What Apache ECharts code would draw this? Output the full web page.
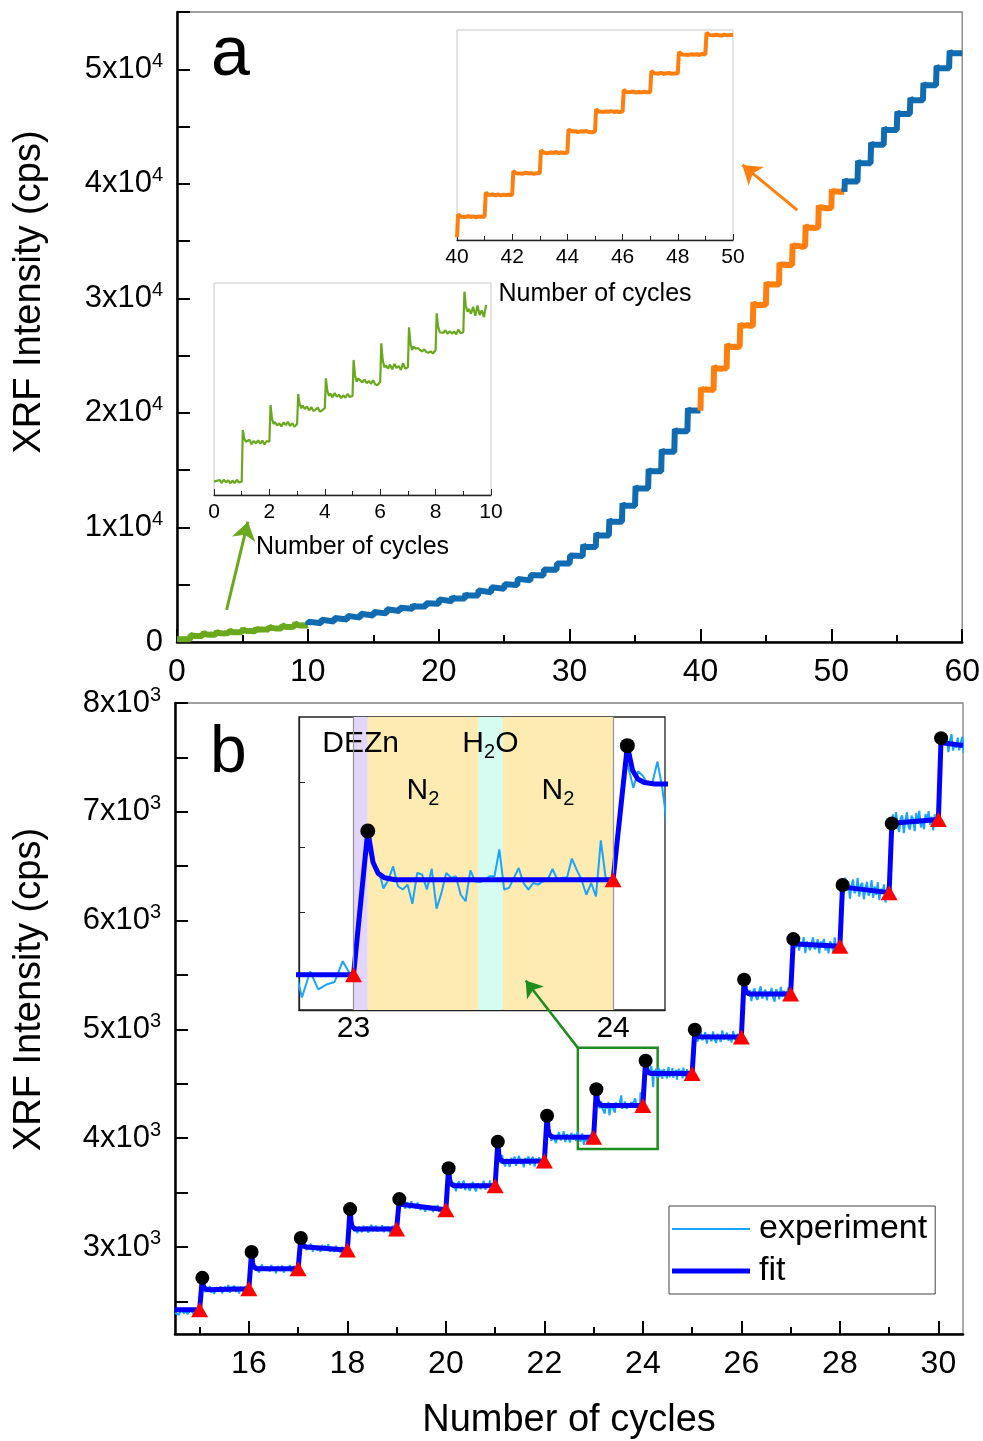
<!DOCTYPE html>
<html>
<head>
<meta charset="utf-8">
<script src="https://cdn.jsdelivr.net/npm/echarts@6.0.0/dist/echarts.min.js"></script>
<style>
html,body{margin:0;padding:0;background:#fff;}
#chart{width:983px;height:1441px;}
</style>
</head>
<body>
<div id="chart"></div>
<script>
const FONT = '"Liberation Sans", Arial, Helvetica, sans-serif';

/* ================= panel a data ================= */
// plateau level held during cycle k .. k+1 (index 60 = level after the last step)
const plateauA = [230, 524, 654, 770, 860, 965, 1071, 1198, 1329, 1480,
  1630, 1790, 1960, 2130, 2310, 2500, 2700, 2900, 3100, 3330,
  3560, 3800, 4060, 4350, 4650, 4980, 5380, 5800, 6300, 6850,
  7500, 8300, 9300, 10500, 11900, 13400, 14900, 16600, 18400, 20200,
  22000, 23900, 25800, 27600, 29450, 31200, 32900, 34550, 36200, 37900,
  39300, 40200, 41800, 43400, 44700, 46100, 47300, 48600, 50100, 51400,
  52400];
// overshoot (spike) right after each step
const overshootA = [0, 86, 140, 105, 130, 160, 177, 167, 139, 147,
  150, 150, 140, 150, 150, 110, 155, 82, 183, 52,
  161, 183, 192, 153, 121, 66, 131, 46, 24, 0,
  47, 200, 200, 200, 200, 200, 200, 200, 200, 200,
  200, 200, 200, 200, 200, 200, 200, 200, 200, 200,
  200, 200, 200, 200, 200, 200, 200, 200, 200, 200,
  200];
// fluctuations read on the plateaus of cycles 0-9 (green inset)
const noiseGreen = [
  [12, -8, 15, -5, 10, -12, 8, -10, 14, -6],
  [-10, 14, -18, 6, -12, 10, -15, 8, -20, 5],
  [15, -10, 5, -18, 12, -8, 16, -14, 6, -20],
  [20, -5, 12, -15, 8, -20, -10, 5, -25, -15],
  [18, -10, 22, -5, 10, -15, 5, -12, 15, -8],
  [25, 10, -5, 15, -10, 5, -15, 10, -20, -25],
  [15, -10, 20, -15, 25, -5, 10, -20, 30, -10],
  [25, 10, 15, 0, -10, 5, -15, -20, -10, -25],
  [10, -5, 15, -12, 8, -10, 5, -15, 20, -8],
  [20, -15, 35, -30, 45, -25, 10, -40, 50, -35]
];
// fluctuations on the plateaus of cycles 40-50 (orange inset)
const noiseOrange = [
  [40, -30, 60, -20, 30, -50, 20, -10],
  [-30, 50, -20, 40, -40, 30, -10, 20],
  [30, -20, -40, 50, -30, 20, -50, 10],
  [50, -40, 20, -10, 60, -30, 10, -20],
  [-20, 40, -50, 30, -10, 50, -40, -60],
  [30, -40, 10, -20, 40, -30, 20, -50],
  [-40, 20, 50, -30, 10, -20, 40, -10],
  [20, -30, 40, -50, 10, 30, -40, -20],
  [30, -20, -40, 10, -30, 20, -50, 60],
  [60, -20, 30, -10, -40, 20, -30, 10],
  [20, -30, 40, -20, 10, -40, 30, -10]
];
const colourRangesA = [[0, 10], [10, 40], [40, 51], [51, 60]];
const orangeInsetRangeA = [40, 50, 19960, 38340];
const greenInsetRangeA = [0, 10, 132, 1691];
const arrowOrangeA = [[47.40, 37700], [43.20, 41650]];
const arrowGreenA = [[3.79, 2800], [5.42, 10500]];

/* ================= panel b data ================= */
const cyclesB = [15, 16, 17, 18, 19, 20, 21, 22, 23, 24, 25, 26, 27, 28, 29, 30];
const lowB    = [2423, 2615, 2799, 2973, 3165, 3342, 3562, 3790, 4008, 4300, 4594, 4930, 5326, 5763, 6257, 6929];
const peakB   = [2716, 2954, 3082, 3348, 3440, 3723, 3968, 4206, 4450, 4712, 4996, 5457, 5830, 6327, 6892, 7677];
const settleB = [2606, 2799, 3000, 3165, 3388, 3562, 3785, 4010, 4300, 4594, 4930, 5326, 5784, 6303, 6898, 7630];
const startB = 2423, endB = 7610;
// experiment minus fit, read along each cycle
const residPreB = [-30, -15, -45, -20, 5, -35, -10, -40, -25, 0, -30, -50, -15, -20];
const residB = [
  [15,-30,25,-10,35,-25,5,-40,20,10,-20,30,-35,0,25,-15,40,-30,10,-5,30,-25,15,-40,20,5,-30,25,-10,15],
  [-20,30,-5,25,-35,10,40,-15,-30,20,5,-25,35,-10,15,-40,25,0,-20,30,-35,10,20,-15,35,-30,5,25,-20,10],
  [25,-15,35,-30,10,-5,30,-40,15,20,-25,5,-35,30,-10,25,-20,40,-30,0,15,-25,30,-15,10,-35,25,5,-20,30],
  [-10,35,-25,15,-40,20,5,-30,30,-15,25,-35,10,40,-20,-5,30,-25,15,-10,35,-30,20,-5,25,-40,10,30,-20,5],
  [30,-20,10,-35,25,5,-30,40,-15,20,-25,35,-5,-30,15,25,-40,10,30,-20,5,-35,25,-10,35,-25,15,-30,20,-5],
  [-35,45,-10,30,-50,20,40,-25,-5,50,-40,15,30,-45,10,35,-20,-50,25,40,-30,5,45,-35,20,-10,50,-45,15,30],
  [40,-30,55,-15,-45,25,10,-50,35,-20,45,-40,5,50,-25,20,-55,30,-10,45,-35,15,40,-50,25,-5,35,-45,20,10],
  [-25,50,-40,20,35,-55,10,45,-30,-10,55,-45,25,5,-50,40,-20,30,-35,50,-15,-40,35,-70,10,-45,-30,-22,42,-2],
  [0,10,-35,-5,40,-20,-30,-15,-74,21,16,-30,34,-89,-41,21,6,11,-46,-66,29,-5,-7,0,11,11,93,-30,-25,6,
   36,-10,-30,-10,-15,-5,0,33,0,6,6,65,31,0,-46,-10,-51,121,6,0],
  [-50,25,18,-3,7,69,-13,-126,30,-20,45,-40,10,55,-30,-5,35,-50,20,40,-25,5,-45,30,60,-35,10,-15,50,-40,
   25,-10,35,-55,15,45,-20,0,30,-45,55,-25,10,-35,40,-10,25,-50,20,-5],
  [35,-50,20,55,-30,-10,45,-60,25,10,-40,50,-20,-55,30,15,-45,60,-25,5,40,-35,20,-50,55,-15,-40,30,10,-30],
  [-40,60,-20,35,-65,15,50,-30,-55,25,70,-45,10,40,-60,20,-15,55,-35,-70,45,5,-50,65,-25,30,-40,15,60,-20],
  [50,-35,75,-60,20,-10,65,-80,30,45,-50,10,70,-40,-20,55,-75,35,-5,60,-45,25,-70,40,15,-55,80,-30,5,-25],
  [-60,90,-30,55,-100,20,80,-45,-15,100,-70,35,60,-90,10,75,-50,-20,95,-65,40,-35,85,-80,25,-10,70,-95,45,-40],
  [80,-50,100,-30,-85,40,65,-100,15,90,-40,-70,55,20,-90,75,-25,95,-60,10,-80,60,-15,85,-45,30,-95,50,-20,35],
  [-40,70,-20,55,-80,30,90,-60,10,-30,65,-50,25,80,-70,40,-15,60,-35,20,-90,45,-10,75,-55,15,50,-25,35,-45]
];
const insetRangeB = [22.79, 24.2, 3900, 4800];
const zoomBoxB = [[22.68, 3900], [24.30, 4830]];
const arrowB = [[22.68, 4830], [21.62, 5450]];
const phasesB = [
  {name: 'DEZn', from: 23.0, to: 23.055},
  {name: 'N2', from: 23.055, to: 23.48},
  {name: 'H2O', from: 23.48, to: 23.575},
  {name: 'N2', from: 23.575, to: 24.0}
];
const phaseLinesB = [23, 24];

/* ================= build series data ================= */
function noiseOf(k) {
  if (k < 10) return noiseGreen[k];
  if (k >= 40 && k <= 50) return noiseOrange[k - 40];
  return [];
}
const ptsA = [];
for (let k = 0; k < 60; k++) {
  const p = plateauA[k], o = overshootA[k];
  if (k === 0) ptsA.push([0, p]);
  else {
    ptsA.push([k, plateauA[k - 1]]);
    ptsA.push([k + 0.04, p + o]);
    ptsA.push([k + 0.09, p + 0.3 * o]);
    ptsA.push([k + 0.15, p]);
  }
  const nz = noiseOf(k);
  nz.forEach((r, j) => ptsA.push([k + 0.2 + j * 0.78 / nz.length, p + r]));
  ptsA.push([k + 1, p]);
}
ptsA.push([60.03, plateauA[60]]);
const segA = colourRangesA.map(([a, b]) => ptsA.filter(d => d[0] >= a && d[0] <= b));
const greenInsetData = ptsA.filter(d => d[0] <= 9.9);
const orangeInsetData = ptsA.filter(d => d[0] >= 40 && d[0] <= 50);

const decayShape = [[0.075, 0.36], [0.095, 0.13], [0.12, 0.04], [0.16, 0]];
const fitB = [[14.5, startB]];
cyclesB.forEach((k, i) => {
  fitB.push([k, lowB[i]]);
  fitB.push([k + 0.055, peakB[i]]);
  decayShape.forEach(([dx, f]) => fitB.push([k + dx, settleB[i] + f * (peakB[i] - settleB[i])]));
});
fitB.push([30.5, endB]);
function fitAt(x) {
  if (x <= fitB[0][0]) return fitB[0][1];
  for (let i = 1; i < fitB.length; i++) {
    if (x <= fitB[i][0]) {
      const [x0, y0] = fitB[i - 1], [x1, y1] = fitB[i];
      return y0 + (y1 - y0) * (x - x0) / (x1 - x0);
    }
  }
  return fitB[fitB.length - 1][1];
}
const expB = [];
residPreB.forEach((r, j) => { const x = 14.5 + j * 0.47 / (residPreB.length - 1); expB.push([x, fitAt(x) + r]); });
cyclesB.forEach((k, i) => {
  expB.push([k, lowB[i]]);
  expB.push([k + 0.05, fitAt(k + 0.05)]);
  const rs = residB[i];
  rs.forEach((r, j) => { const x = k + 0.078 + j * 0.912 / (rs.length - 1); expB.push([x, fitAt(x) + r]); });
});
const dotsB = cyclesB.map((k, i) => [k + 0.055, peakB[i]]);
const trisB = cyclesB.map((k, i) => [k, lowB[i]]);

/* ================= option ================= */
const black = '#000';
const EXP_C = '#1aa3ff', FIT_C = '#0000ff', GREEN_A = '#6aa81e', BLUE_A = '#106bb0', ORANGE_A = '#ff7f0e', BOX_C = '#1e8c1e';
const tickFont = {fontSize: 32, color: black, fontFamily: FONT};
const supRich = {
  m: {fontSize: 31, color: black, fontFamily: FONT, lineHeight: 36},
  e: {fontSize: 20, color: black, fontFamily: FONT, lineHeight: 22, verticalAlign: 'top'}
};
const subRich = {
  n: {fontSize: 30, color: black, fontFamily: FONT, lineHeight: 36},
  s: {fontSize: 20, color: black, fontFamily: FONT, lineHeight: 20, verticalAlign: 'bottom', padding: [12, 0, 0, 0]}
};
function phaseLabel(name) {
  if (name === 'H2O') return '{n|H}{s|2}{n|O}';
  if (name === 'N2') return '{n|N}{s|2}';
  return '{n|' + name + '}';
}
const phaseColors = {DEZn: '#e3d6fa', N2: '#fdebb1', H2O: '#d6fbf1'};

const mainGrid = {show: true, borderColor: '#808080', borderWidth: 1.3, backgroundColor: 'transparent'};
const insetGridA = {show: true, borderColor: '#c8c8c8', borderWidth: 1, backgroundColor: '#fff'};
const legendText = {fontSize: 34, color: black, fontFamily: FONT, padding: [0, 0, 0, 4]};

function arrowHost(name, color, xi, yi, anchor, from, to, width, size) {
  return {type: 'scatter', name: name, xAxisIndex: xi, yAxisIndex: yi, data: [anchor], symbolSize: 0,
    itemStyle: {color: color, opacity: 1}, z: 6, silent: true,
    markLine: {silent: true, animation: false, symbol: ['none', 'arrow'], symbolSize: size,
      label: {show: false}, lineStyle: {color: color, width: width, type: 'solid', opacity: 1},
      itemStyle: {color: color}, emphasis: {disabled: true},
      data: [[{coord: from}, {coord: to}]]}};
}

const option = {
  animation: false,
  backgroundColor: '#fff',
  title: [
    {text: 'a', left: 206, top: 16, textStyle: {fontSize: 70, fontWeight: 'normal', color: black, fontFamily: FONT}},
    {text: 'b', left: 205, top: 716, textStyle: {fontSize: 66, fontWeight: 'normal', color: black, fontFamily: FONT}}
  ],
  grid: [
    Object.assign({left: 177, top: 12, width: 786, height: 630}, mainGrid),
    Object.assign({left: 457, top: 30, width: 276, height: 210}, insetGridA),
    Object.assign({left: 214, top: 283, width: 277, height: 212}, insetGridA),
    Object.assign({left: 175, top: 703, width: 788, height: 632}, mainGrid),
    {left: 299, top: 717, width: 366, height: 293, show: true, borderColor: '#222', borderWidth: 1.3, backgroundColor: '#fff'}
  ],
  legend: [
    {data: [{name: 'experiment', icon: 'rect'}], left: 669, top: 1206,
      itemWidth: 78, itemHeight: 2, padding: [6, 8, 48, 3],
      borderColor: '#444', borderWidth: 1, selectedMode: false, textStyle: legendText},
    {data: [{name: 'fit', icon: 'rect'}], left: 669, top: 1254,
      itemWidth: 78, itemHeight: 5, padding: [0, 8, 0, 3],
      selectedMode: false, textStyle: legendText}
  ],
  xAxis: [
    {type: 'value', gridIndex: 0, position: 'bottom', min: 0, max: 60, interval: 10,
      axisLine: {show: true, onZero: false, lineStyle: {color: black, width: 2.5}},
      axisTick: {show: true, inside: true, length: 13, lineStyle: {color: black, width: 2}},
      minorTick: {show: true, splitNumber: 2, length: 7, lineStyle: {color: black, width: 2}},
      axisLabel: Object.assign({margin: 14}, tickFont), splitLine: {show: false}},
    {type: 'value', gridIndex: 1, position: 'bottom', min: orangeInsetRangeA[0], max: orangeInsetRangeA[1], interval: 2,
      axisLine: {show: true, onZero: false, lineStyle: {color: '#222', width: 1.3}},
      axisTick: {show: true, inside: true, length: 6, lineStyle: {color: '#222', width: 1}},
      minorTick: {show: true, splitNumber: 2, length: 4, lineStyle: {color: '#222', width: 1}},
      axisLabel: {margin: 7, fontSize: 21, color: black, fontFamily: FONT}, splitLine: {show: false},
      name: 'Number of cycles', nameLocation: 'middle', nameGap: 42,
      nameTextStyle: {fontSize: 25, color: black, fontFamily: FONT}},
    {type: 'value', gridIndex: 2, position: 'bottom', min: greenInsetRangeA[0], max: greenInsetRangeA[1], interval: 2,
      axisLine: {show: true, onZero: false, lineStyle: {color: '#222', width: 1.3}},
      axisTick: {show: true, inside: true, length: 6, lineStyle: {color: '#222', width: 1}},
      minorTick: {show: true, splitNumber: 2, length: 4, lineStyle: {color: '#222', width: 1}},
      axisLabel: {margin: 7, fontSize: 21, color: black, fontFamily: FONT}, splitLine: {show: false},
      name: 'Number of cycles', nameLocation: 'middle', nameGap: 40,
      nameTextStyle: {fontSize: 25, color: black, fontFamily: FONT}},
    {type: 'value', gridIndex: 3, position: 'bottom', min: 14.5, max: 30.5,
      axisLine: {show: true, onZero: false, lineStyle: {color: black, width: 2.5}},
      axisTick: {show: true, inside: true, length: 13, customValues: [16, 18, 20, 22, 24, 26, 28, 30], lineStyle: {color: black, width: 2}},
      axisLabel: Object.assign({margin: 14, customValues: [16, 18, 20, 22, 24, 26, 28, 30]}, tickFont),
      splitLine: {show: false},
      name: 'Number of cycles', nameLocation: 'middle', nameGap: 68,
      nameTextStyle: {fontSize: 38, color: black, fontFamily: FONT}},
    {type: 'value', gridIndex: 3, position: 'bottom', min: 14.5, max: 30.5,
      axisLine: {show: false}, axisLabel: {show: false}, splitLine: {show: false},
      axisTick: {show: true, inside: true, length: 7, customValues: [15, 17, 19, 21, 23, 25, 27, 29], lineStyle: {color: black, width: 2}}},
    {type: 'value', gridIndex: 4, position: 'bottom', min: insetRangeB[0], max: insetRangeB[1],
      axisLine: {show: true, onZero: false, lineStyle: {color: '#222', width: 1.3}},
      axisTick: {show: false},
      axisLabel: {margin: 4, customValues: [23, 24], fontSize: 30, color: black, fontFamily: FONT},
      splitLine: {show: false}}
  ],
  yAxis: [
    {type: 'value', gridIndex: 0, position: 'left', min: 0, max: 55000, interval: 5000,
      axisLine: {show: true, lineStyle: {color: black, width: 2.5}},
      axisTick: {show: true, inside: true, length: 13, lineStyle: {color: black, width: 2}},
      axisLabel: {margin: 14, rich: supRich,
        formatter: v => v === 0 ? '{m|0}' : (v % 10000 === 0 ? '{m|' + (v / 10000) + 'x10}{e|4}' : '')},
      splitLine: {show: false},
      name: 'XRF Intensity (cps)', nameLocation: 'middle', nameGap: 128,
      nameTextStyle: {fontSize: 38, color: black, fontFamily: FONT, padding: [0, 0, 0, 70]}},
    {type: 'value', gridIndex: 1, position: 'left', min: orangeInsetRangeA[2], max: orangeInsetRangeA[3],
      axisLine: {show: false}, axisTick: {show: false}, axisLabel: {show: false}, splitLine: {show: false}},
    {type: 'value', gridIndex: 2, position: 'left', min: greenInsetRangeA[2], max: greenInsetRangeA[3],
      axisLine: {show: false}, axisTick: {show: false}, axisLabel: {show: false}, splitLine: {show: false}},
    {type: 'value', gridIndex: 3, position: 'left', min: 2200, max: 8000,
      axisLine: {show: true, onZero: false, lineStyle: {color: black, width: 2.5}},
      axisTick: {show: true, inside: true, length: 13,
        customValues: [2500, 3000, 3500, 4000, 4500, 5000, 5500, 6000, 6500, 7000, 7500, 8000],
        lineStyle: {color: black, width: 2}},
      axisLabel: {margin: 14, rich: supRich, customValues: [3000, 4000, 5000, 6000, 7000, 8000],
        formatter: v => '{m|' + (v / 1000) + 'x10}{e|3}'},
      splitLine: {show: false},
      name: 'XRF Intensity (cps)', nameLocation: 'middle', nameGap: 126,
      nameTextStyle: {fontSize: 38, color: black, fontFamily: FONT, padding: [0, 0, 0, 58]}},
    {type: 'value', gridIndex: 4, position: 'left', min: insetRangeB[2], max: insetRangeB[3],
      axisLine: {show: true, onZero: false, lineStyle: {color: '#222', width: 1.3}},
      axisTick: {show: true, inside: true, length: 6, customValues: [4200, 4400, 4600], lineStyle: {color: '#222', width: 1}},
      axisLabel: {show: false}, splitLine: {show: false}}
  ],
  series: [
    // panel a main curve, coloured by cycle range
    {type: 'line', name: 'a0', xAxisIndex: 0, yAxisIndex: 0, data: segA[0], symbol: 'none', lineStyle: {color: GREEN_A, width: 6}, z: 3},
    {type: 'line', name: 'a1', xAxisIndex: 0, yAxisIndex: 0, data: segA[1], symbol: 'none', lineStyle: {color: BLUE_A, width: 6}, z: 3},
    {type: 'line', name: 'a2', xAxisIndex: 0, yAxisIndex: 0, data: segA[2], symbol: 'none', lineStyle: {color: ORANGE_A, width: 6}, z: 3},
    {type: 'line', name: 'a3', xAxisIndex: 0, yAxisIndex: 0, data: segA[3], symbol: 'none', lineStyle: {color: BLUE_A, width: 6}, z: 3},
    // panel a arrows
    arrowHost('arrowOrange', ORANGE_A, 0, 0, arrowOrangeA[0], arrowOrangeA[0], arrowOrangeA[1], 3, 18),
    arrowHost('arrowGreen', GREEN_A, 0, 0, arrowGreenA[0], arrowGreenA[0], arrowGreenA[1], 3, 18),
    // panel a insets
    {type: 'line', name: 'orangeInset', xAxisIndex: 1, yAxisIndex: 1, data: orangeInsetData, symbol: 'none', lineStyle: {color: ORANGE_A, width: 4}, z: 4},
    {type: 'line', name: 'greenInset', xAxisIndex: 2, yAxisIndex: 2, data: greenInsetData, symbol: 'none', lineStyle: {color: GREEN_A, width: 2.2}, z: 4},
    // panel b main
    {type: 'line', name: 'experiment', xAxisIndex: 3, yAxisIndex: 3, data: expB, symbol: 'none', itemStyle: {color: EXP_C}, lineStyle: {color: EXP_C, width: 2}, z: 3},
    {type: 'line', name: 'fit', xAxisIndex: 3, yAxisIndex: 3, data: fitB, symbol: 'none', itemStyle: {color: FIT_C}, lineStyle: {color: FIT_C, width: 5}, z: 4},
    {type: 'scatter', name: 'peaks', xAxisIndex: 3, yAxisIndex: 3, data: dotsB, symbol: 'circle', symbolSize: 14, itemStyle: {color: '#000', opacity: 1}, z: 5},
    {type: 'scatter', name: 'starts', xAxisIndex: 3, yAxisIndex: 3, data: trisB, symbol: 'triangle', symbolSize: [17, 15], itemStyle: {color: '#ff0000', opacity: 1}, z: 5},
    {type: 'scatter', name: 'zoomBox', xAxisIndex: 3, yAxisIndex: 3, data: [zoomBoxB[0]], symbolSize: 0, itemStyle: {color: BOX_C}, z: 6, silent: true,
      markArea: {silent: true, animation: false,
        itemStyle: {color: 'rgba(0,0,0,0)', borderColor: BOX_C, borderWidth: 2.5, opacity: 1},
        data: [[{coord: zoomBoxB[0]}, {coord: zoomBoxB[1]}]]}},
    arrowHost('arrowB', BOX_C, 3, 3, arrowB[0], arrowB[0], arrowB[1], 2.5, 16),
    // panel b inset
    {type: 'scatter', name: 'phases', xAxisIndex: 5, yAxisIndex: 4, data: [[23.5, 3950]], symbolSize: 0, z: 1, silent: true,
      markArea: {silent: true, animation: false,
        data: phasesB.map(p => [{name: phaseLabel(p.name), xAxis: p.from, itemStyle: {color: phaseColors[p.name], opacity: 1},
          label: {show: true, position: 'insideTop', distance: p.name === 'N2' ? 56 : 9, formatter: q => q.name, rich: subRich}},
          {xAxis: p.to}])},
      markLine: {silent: true, animation: false, symbol: ['none', 'none'], label: {show: false},
        lineStyle: {color: '#9a9a9a', width: 1.3, type: 'solid', opacity: 1},
        data: phaseLinesB.map(v => ({xAxis: v}))}},
    {type: 'line', name: 'experimentInset', xAxisIndex: 5, yAxisIndex: 4, data: expB, symbol: 'none', lineStyle: {color: EXP_C, width: 2}, z: 3},
    {type: 'line', name: 'fitInset', xAxisIndex: 5, yAxisIndex: 4, data: fitB, symbol: 'none', lineStyle: {color: FIT_C, width: 5}, z: 4},
    {type: 'scatter', name: 'peaksInset', xAxisIndex: 5, yAxisIndex: 4, data: dotsB, symbol: 'circle', symbolSize: 15, itemStyle: {color: '#000', opacity: 1}, z: 5},
    {type: 'scatter', name: 'startsInset', xAxisIndex: 5, yAxisIndex: 4, data: trisB, symbol: 'triangle', symbolSize: [17, 15], itemStyle: {color: '#ff0000', opacity: 1}, z: 5}
  ]
};

const chart = echarts.init(document.getElementById('chart'), null, {renderer: 'canvas'});
chart.setOption(option);
</script>
</body>
</html>
